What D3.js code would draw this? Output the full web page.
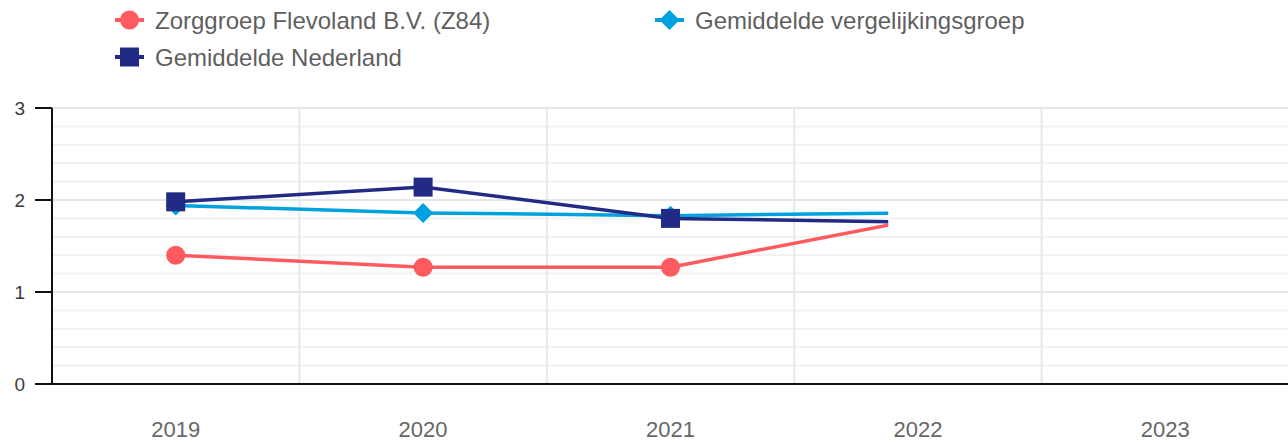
<!DOCTYPE html>
<html>
<head>
<meta charset="utf-8">
<script src="https://cdn.jsdelivr.net/npm/d3@7"></script>
<style>
  body { margin: 0; background: #fff; }
  svg { display: block; font-family: "Liberation Sans", Arial, sans-serif; }
  .legend-text { fill: #5f5f5f; font-size: 24px; }
  .y-label { fill: #3a3a3a; font-size: 19px; }
  .x-label { fill: #666; font-size: 22px; }
</style>
</head>
<body>
<svg id="chart" width="1288" height="446"></svg>
<script>
var years = ["2019", "2020", "2021", "2022", "2023"];
var zorggroep = [1.40, 1.27, 1.27, 1.79];
var vergelijking = [1.94, 1.86, 1.83, 1.86];
var nederland = [1.98, 2.14, 1.80, 1.76];
var yTicks = [0, 1, 2, 3];
// snapshot of the draw-in animation: share of the path already shown
var progress = 0.96;

var W = 1288, H = 446;
var plotLeft = 52, plotRight = 1289, plotTop = 108, plotBottom = 384;

var svg = d3.select("#chart");

var x = d3.scaleBand().domain(years).range([plotLeft, plotRight]);
var y = d3.scaleLinear().domain([0, 3]).range([plotBottom, plotTop]);
var bw = x.bandwidth();
var cx = function(i){ return x(years[i]) + bw / 2; };

var series = [
  {name: "Zorggroep Flevoland B.V. (Z84)", values: zorggroep, color: "#ff5a5f", shape: "circle"},
  {name: "Gemiddelde vergelijkingsgroep", values: vergelijking, color: "#00a1de", shape: "diamond"},
  {name: "Gemiddelde Nederland", values: nederland, color: "#212a85", shape: "square"}
];

//grid
var grid = svg.append("g");
grid.selectAll(".minor")
  .data(y.ticks(15).filter(function(d){ return Math.abs(d - Math.round(d)) > 1e-6; }))
  .enter().append("line")
  .attr("x1", plotLeft).attr("x2", W)
  .attr("y1", function(d){ return y(d); }).attr("y2", function(d){ return y(d); })
  .attr("stroke", "#f1f1f1").attr("stroke-width", 2);
grid.selectAll(".major")
  .data(yTicks.slice(1))
  .enter().append("line")
  .attr("x1", plotLeft).attr("x2", W)
  .attr("y1", function(d){ return y(d); }).attr("y2", function(d){ return y(d); })
  .attr("stroke", "#e6e6e6").attr("stroke-width", 2);
grid.selectAll(".vgrid")
  .data(years.slice(0, -1))
  .enter().append("line")
  .attr("x1", function(d){ return x(d) + bw; }).attr("x2", function(d){ return x(d) + bw; })
  .attr("y1", plotTop).attr("y2", plotBottom)
  .attr("stroke", "#e8e8e8").attr("stroke-width", 2);

//axes
svg.append("line")
  .attr("x1", plotLeft).attr("x2", plotLeft).attr("y1", plotTop).attr("y2", plotBottom)
  .attr("stroke", "#111").attr("stroke-width", 2);
svg.append("line")
  .attr("x1", 35).attr("x2", W).attr("y1", plotBottom).attr("y2", plotBottom)
  .attr("stroke", "#111").attr("stroke-width", 2);
svg.selectAll(".ytick")
  .data(yTicks)
  .enter().append("line")
  .attr("x1", 35).attr("x2", plotLeft)
  .attr("y1", function(d){ return y(d); }).attr("y2", function(d){ return y(d); })
  .attr("stroke", "#111").attr("stroke-width", 2);
svg.selectAll(".y-label")
  .data(yTicks)
  .enter().append("text")
  .attr("class", "y-label")
  .attr("text-anchor", "end")
  .attr("x", 25)
  .attr("y", function(d){ return y(d) + 7; })
  .text(function(d){ return d; });
svg.selectAll(".x-label")
  .data(years)
  .enter().append("text")
  .attr("class", "x-label")
  .attr("text-anchor", "middle")
  .attr("x", function(d){ return x(d) + bw / 2; })
  .attr("y", 437)
  .text(function(d){ return d; });

//series, clipped where the reveal animation stood
var firstX = cx(0), lastX = cx(zorggroep.length - 1);
svg.append("clipPath").attr("id", "reveal")
  .append("rect")
  .attr("x", 0).attr("y", 0)
  .attr("width", firstX + (lastX - firstX) * progress)
  .attr("height", H);

var plot = svg.append("g").attr("clip-path", "url(#reveal)");

var line = d3.line()
  .x(function(d, i){ return cx(i); })
  .y(function(d){ return y(d); });

var drawMarker = function(g, s, px, py){
  if(s.shape == "circle"){
    g.append("circle").attr("cx", px).attr("cy", py).attr("r", 9.5).attr("fill", s.color);
  } else if(s.shape == "square"){
    g.append("rect").attr("x", px - 9.5).attr("y", py - 9.5).attr("width", 19).attr("height", 19).attr("fill", s.color);
  } else {
    g.append("path").attr("d", "M" + px + "," + (py - 10) + "L" + (px + 10) + "," + py + "L" + px + "," + (py + 10) + "L" + (px - 10) + "," + py + "Z").attr("fill", s.color);
  }
};

series.forEach(function(s){
  plot.append("path")
    .datum(s.values)
    .attr("d", line)
    .attr("fill", "none")
    .attr("stroke", s.color)
    .attr("stroke-width", 3.5);
});
series.forEach(function(s){
  var g = plot.append("g");
  s.values.forEach(function(v, i){ drawMarker(g, s, cx(i), y(v)); });
});

//legend
var legendPos = [[115, 20], [655, 20], [115, 57]];
series.forEach(function(s, i){
  var g = svg.append("g").attr("transform", "translate(" + legendPos[i][0] + "," + legendPos[i][1] + ")");
  g.append("line").attr("x1", 0).attr("x2", 29).attr("y1", 0).attr("y2", 0)
    .attr("stroke", s.color).attr("stroke-width", 4);
  drawMarker(g, s, 14.5, 0);
  g.append("text").attr("class", "legend-text").attr("x", 40).attr("y", 8.5).text(s.name);
});
</script>
</body>
</html>
